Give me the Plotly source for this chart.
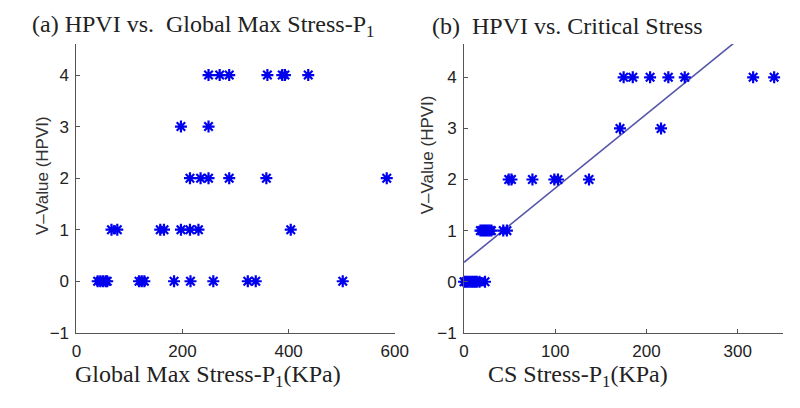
import plotly.graph_objects as go

# ---- data: panel (a) HPVI vs Global Max Stress-P1 ----
a_x_v4 = [249, 270, 288, 360, 388, 393, 437]
a_x_v3 = [197, 249]
a_x_v2 = [214, 234, 249, 288, 358, 585]
a_x_v1 = [66, 77, 158, 165, 197, 214, 230, 404]
a_x_v0 = [40, 45, 50, 55, 58, 118, 123, 128, 184, 215, 258, 323, 338, 502]

# ---- data: panel (b) HPVI vs Critical Stress ----
b_x_v4 = [175, 185, 204, 224, 242, 317, 340]
b_x_v3 = [171, 216]
b_x_v2 = [49, 52, 75, 99, 103, 137]
b_x_v1 = [18, 20, 22, 24, 26, 28, 30, 43, 47]
b_x_v0 = [0, 2, 4, 6, 8, 10, 12, 14, 17, 23]

# least-squares line
fit_intercept = 0.38
fit_slope = 0.0145
fit_x = [0, 340]

a_xticks = [0, 200, 400, 600]
b_xticks = [0, 100, 200, 300]
yticks = [-1, 0, 1, 2, 3, 4]


def flatten(groups):
    xs, ys = [], []
    for val, arr in groups:
        xs += list(arr)
        ys += [val] * len(arr)
    return xs, ys


ax, ay = flatten([(4, a_x_v4), (3, a_x_v3), (2, a_x_v2), (1, a_x_v1), (0, a_x_v0)])
bx, by = flatten([(4, b_x_v4), (3, b_x_v3), (2, b_x_v2), (1, b_x_v1), (0, b_x_v0)])
fit_y = [fit_intercept + fit_slope * x for x in fit_x]

W, H = 800, 408
marker = dict(symbol="asterisk-open", size=10, color="#0000ee",
              line=dict(color="#0000ee", width=2.2))

fig = go.Figure()
fig.add_trace(go.Scatter(x=ax, y=ay, mode="markers", marker=marker,
                         xaxis="x", yaxis="y", cliponaxis=False, showlegend=False))
fig.add_trace(go.Scatter(x=fit_x, y=fit_y, mode="lines",
                         line=dict(color="#5555aa", width=1.6),
                         xaxis="x2", yaxis="y2", showlegend=False))
fig.add_trace(go.Scatter(x=bx, y=by, mode="markers", marker=marker,
                         xaxis="x2", yaxis="y2", cliponaxis=False, showlegend=False))

tickfont = dict(family="Liberation Sans", size=17, color="#222222")
axis_common = dict(showline=True, linecolor="#555555", linewidth=1,
                   ticks="inside", ticklen=4, tickcolor="#555555",
                   showgrid=False, zeroline=False, tickfont=tickfont,
                   ticklabelstandoff=3)

ydom = [1 - 333 / H, 1 - 37 / H]

fig.update_layout(
    width=W, height=H, autosize=False,
    margin=dict(l=0, r=0, t=0, b=0),
    paper_bgcolor="white", plot_bgcolor="white",
    xaxis=dict(domain=[65 / W, 391 / W], range=[0, 600], tickvals=a_xticks,
               anchor="y", **axis_common),
    yaxis=dict(domain=ydom, range=[-1, 4.6], tickvals=yticks,
               anchor="x", **axis_common),
    xaxis2=dict(domain=[462 / W, 789 / W], range=[0, 350], tickvals=b_xticks,
                anchor="y2", **axis_common),
    yaxis2=dict(domain=ydom, range=[-1, 4.65], tickvals=yticks,
                anchor="x2", **axis_common),
)

serif = dict(family="Liberation Serif", size=24, color="#222222")
sans_lbl = dict(family="Liberation Sans", size=17, color="#333333")


def ann(text, px, py, font, angle=0):
    fig.add_annotation(text=text, x=px / W, y=1 - py / H, xref="paper", yref="paper",
                       showarrow=False, font=font, textangle=angle,
                       xanchor="center", yanchor="middle")


ann("(a) HPVI vs.  Global Max Stress-P<sub>1</sub>", 195, 18, serif)
ann("(b)  HPVI vs. Critical Stress", 568, 18, serif)
ann("Global Max Stress-P<sub>1</sub>(KPa)", 200, 377, serif)
ann("CS Stress-P<sub>1</sub>(KPa)", 579, 377, serif)
ann("V\u2013Value (HPVI)", 30, 172, sans_lbl, -90)
ann("V\u2013Value (HPVI)", 424, 150, sans_lbl, -90)

fig.write_html("out.html")
